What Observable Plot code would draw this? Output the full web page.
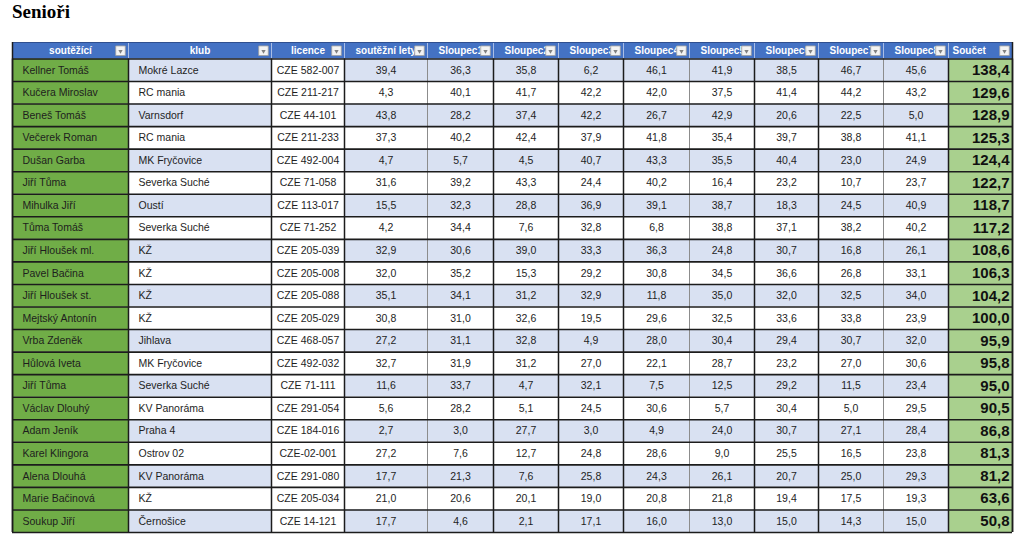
<!DOCTYPE html>
<html><head><meta charset="utf-8">
<script src="https://cdn.jsdelivr.net/npm/d3@7"></script>
<script src="https://cdn.jsdelivr.net/npm/@observablehq/plot@0.6"></script>
<style>
body{margin:0;background:#fff;}
#title{font-family:"Liberation Serif","Times New Roman",serif;font-weight:bold;font-size:19px;line-height:24px;height:24px;padding-left:12px;color:#000;}
#chart svg{display:block;}
</style></head><body>
<div id="title">Senioři</div>
<div id="chart"></div>
<script>
// ---- data ----
const headers = ["soutěžící","klub","licence","soutěžní lety","Sloupec1","Sloupec2","Sloupec3","Sloupec4","Sloupec5","Sloupec6","Sloupec7","Sloupec8","Součet"];
const competitors = ["Kellner Tomáš","Kučera Miroslav","Beneš Tomáš","Večerek Roman","Dušan Garba","Jiří Tůma","Mihulka Jiří","Tůma Tomáš","Jiří Hloušek ml.","Pavel Bačina","Jiří Hloušek st.","Mejtský Antonín","Vrba Zdeněk","Hůlová Iveta","Jiří Tůma","Václav Dlouhý","Adam Jeník","Karel Klingora","Alena Dlouhá","Marie Bačinová","Soukup Jiří"];
const clubs = ["Mokré Lazce","RC mania","Varnsdorf","RC mania","MK Fryčovice","Severka Suché","Oustí","Severka Suché","KŽ","KŽ","KŽ","KŽ","Jihlava","MK Fryčovice","Severka Suché","KV Panoráma","Praha 4","Ostrov 02","KV Panoráma","KŽ","Černošice"];
const licences = ["CZE 582-007","CZE 211-217","CZE 44-101","CZE 211-233","CZE 492-004","CZE 71-058","CZE 113-017","CZE 71-252","CZE 205-039","CZE 205-008","CZE 205-088","CZE 205-029","CZE 468-057","CZE 492-032","CZE 71-111","CZE 291-054","CZE 184-016","CZE-02-001","CZE 291-080","CZE 205-034","CZE 14-121"];
const soutezniLety = [39.4,4.3,43.8,37.3,4.7,31.6,15.5,4.2,32.9,32.0,35.1,30.8,27.2,32.7,11.6,5.6,2.7,27.2,17.7,21.0,17.7];
const sloupec1 = [36.3,40.1,28.2,40.2,5.7,39.2,32.3,34.4,30.6,35.2,34.1,31.0,31.1,31.9,33.7,28.2,3.0,7.6,21.3,20.6,4.6];
const sloupec2 = [35.8,41.7,37.4,42.4,4.5,43.3,28.8,7.6,39.0,15.3,31.2,32.6,32.8,31.2,4.7,5.1,27.7,12.7,7.6,20.1,2.1];
const sloupec3 = [6.2,42.2,42.2,37.9,40.7,24.4,36.9,32.8,33.3,29.2,32.9,19.5,4.9,27.0,32.1,24.5,3.0,24.8,25.8,19.0,17.1];
const sloupec4 = [46.1,42.0,26.7,41.8,43.3,40.2,39.1,6.8,36.3,30.8,11.8,29.6,28.0,22.1,7.5,30.6,4.9,28.6,24.3,20.8,16.0];
const sloupec5 = [41.9,37.5,42.9,35.4,35.5,16.4,38.7,38.8,24.8,34.5,35.0,32.5,30.4,28.7,12.5,5.7,24.0,9.0,26.1,21.8,13.0];
const sloupec6 = [38.5,41.4,20.6,39.7,40.4,23.2,18.3,37.1,30.7,36.6,32.0,33.6,29.4,23.2,29.2,30.4,30.7,25.5,20.7,19.4,15.0];
const sloupec7 = [46.7,44.2,22.5,38.8,23.0,10.7,24.5,38.2,16.8,26.8,32.5,33.8,30.7,27.0,11.5,5.0,27.1,16.5,25.0,17.5,14.3];
const sloupec8 = [45.6,43.2,5.0,41.1,24.9,23.7,40.9,40.2,26.1,33.1,34.0,23.9,32.0,30.6,23.4,29.5,28.4,23.8,29.3,19.3,15.0];
const soucet = [138.4,129.6,128.9,125.3,124.4,122.7,118.7,117.2,108.6,106.3,104.2,100.0,95.9,95.8,95.0,90.5,86.8,81.3,81.2,63.6,50.8];

// ---- layout ----
const colWidths = [116,143,73,83,66,65,65,66,65,64,65,65,64];
const edges = Array.from(d3.cumsum([0, ...colWidths]));
const headerSpan = 0.73;
const nRows = competitors.length;
const C = {blue:"#4472C4", green:"#70AD47", sumGreen:"#A9D08E", stripe:"#D9E1F2", white:"#FFFFFF", line:"#1c1c1c", grey:"#8c8c8c"};
const font = "Liberation Sans, Arial, sans-serif";
const fmt = v => v.toFixed(1).replace(".", ",");
const mid = j => (edges[j] + edges[j + 1]) / 2;

const valueCols = [soutezniLety, sloupec1, sloupec2, sloupec3, sloupec4, sloupec5, sloupec6, sloupec7, sloupec8];

const cells = [];
for (let i = 0; i < nRows; i++) {
  for (let j = 0; j < headers.length; j++) {
    let fill;
    if (j === 0) fill = C.green;
    else if (j === 12) fill = C.sumGreen;
    else if (j === 2) fill = C.white;
    else fill = i % 2 === 0 ? C.stripe : C.white;
    cells.push({x1: edges[j], x2: edges[j + 1], y1: i, y2: i + 1, fill});
  }
}
const headerCells = headers.map((h, j) => ({h, j, x1: edges[j], x2: edges[j + 1]}));

const rowIdx = d3.range(nRows);
const leftTexts = [];
const centerTexts = [];
rowIdx.forEach(i => {
  leftTexts.push({x: edges[0], y: i + 0.5, t: competitors[i]});
  leftTexts.push({x: edges[1], y: i + 0.5, t: clubs[i]});
  centerTexts.push({x: mid(2), y: i + 0.5, t: licences[i]});
  valueCols.forEach((col, k) => {
    centerTexts.push({x: mid(k + 3), y: i + 0.5, t: fmt(col[i])});
  });
});
const sums = rowIdx.map(i => ({x: edges[13], y: i + 0.5, t: fmt(soucet[i])}));

const hCenter = headerCells.filter(d => d.j <= 2);
const hLeft = headerCells.filter(d => d.j > 2 && d.j < 12);
const hSum = headerCells.filter(d => d.j === 12);

const greyEdges = new Set([4, 8, 11]);
const vLines = edges.map((e, k) => ({x: e, grey: greyEdges.has(k)}));
const hLines = d3.range(0, nRows + 1);
const xMax = edges[edges.length - 1];

const plot = Plot.plot({
  width: 1024,
  height: 521,
  marginLeft: 12,
  marginRight: 12,
  marginTop: 18,
  marginBottom: 13,
  style: {fontFamily: font, background: "#fff"},
  x: {domain: [0, xMax], axis: null},
  y: {domain: [-headerSpan, nRows], reverse: true, axis: null},
  marks: [
    Plot.rect(cells, {x1: "x1", x2: "x2", y1: "y1", y2: "y2", fill: d => d.fill}),
    Plot.rect(headerCells, {x1: "x1", x2: "x2", y1: -headerSpan, y2: 0, fill: C.blue}),
    Plot.text(hCenter, {x: d => (d.x1 + d.x2) / 2, y: -headerSpan / 2, text: "h", textAnchor: "middle", fontSize: 10, fontWeight: "bold", fill: "#fff"}),
    Plot.text(hLeft, {x: "x1", y: -headerSpan / 2, text: "h", textAnchor: "start", dx: 11, fontSize: 10, fontWeight: "bold", fill: "#fff"}),
    Plot.text(hSum, {x: "x1", y: -headerSpan / 2, text: "h", textAnchor: "start", dx: 4, fontSize: 10, fontWeight: "bold", fill: "#fff"}),
    Plot.dot(headerCells, {x: "x2", y: -headerSpan / 2, dx: -8, symbol: "square", r: 5.4, fill: "#f3f3f3", stroke: "#a0a0a0", strokeWidth: 0.8}),
    Plot.dot(headerCells, {x: "x2", y: -headerSpan / 2, dx: -8, dy: 0.5, symbol: "triangle", r: 1.6, rotate: 180, fill: "#808080"}),
    Plot.ruleX(vLines.slice(1, -1), {x: "x", y1: -headerSpan, y2: 0, stroke: "#a9bde6", strokeWidth: 1}),
    Plot.ruleX(vLines, {x: "x", y1: 0, y2: nRows, stroke: d => d.grey ? C.grey : C.line, strokeWidth: d => d.grey ? 1 : 1.5}),
    Plot.ruleY(hLines, {y: d => d, x1: 0, x2: xMax, stroke: C.line, strokeWidth: 1.6}),
    Plot.ruleY([-headerSpan], {x1: 0, x2: xMax, stroke: "#2f4f8f", strokeWidth: 1}),
    Plot.ruleX([edges[0], xMax], {y1: -headerSpan, y2: nRows, stroke: C.line, strokeWidth: 1.5}),
    Plot.text(leftTexts, {x: "x", y: "y", text: "t", textAnchor: "start", dx: 10, fontSize: 10.5, fill: "#1e1e1e"}),
    Plot.text(centerTexts, {x: "x", y: "y", text: "t", textAnchor: "middle", fontSize: 10.5, fill: "#1e1e1e"}),
    Plot.text(sums, {x: "x", y: "y", text: "t", textAnchor: "end", dx: -3, fontSize: 15, fontWeight: "bold", fill: "#111"})
  ]
});
document.getElementById("chart").appendChild(plot);
</script>
</body></html>
